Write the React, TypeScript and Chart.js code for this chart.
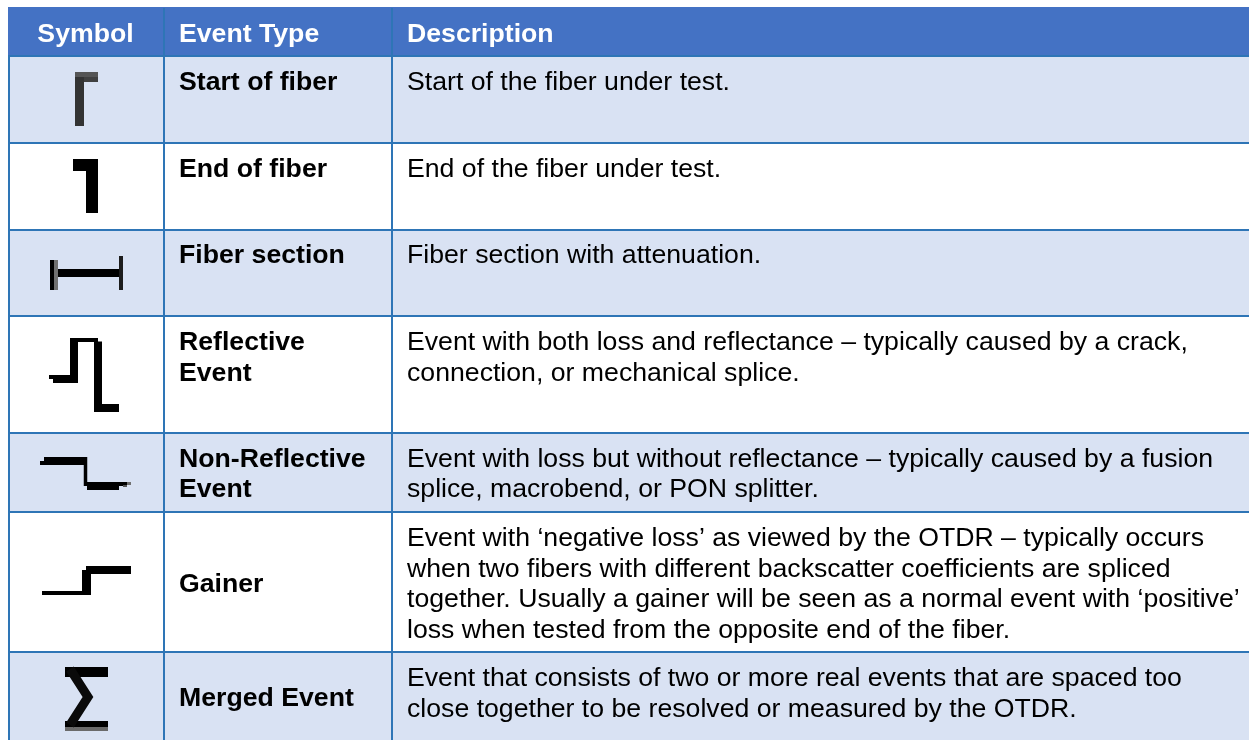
import React, { useEffect, useRef } from "react";
import { Chart, registerables } from "chart.js";

Chart.register(...registerables);

const WIDTH = 1249;
const HEIGHT = 740;

// Table grid, in scale units
const tableLeft = 9;
const tableTop = 7;
const columnEdges = [164, 392];
const rowEdges = [56, 143, 230, 316, 433, 512, 652];
const shadedRows = [[56, 143], [230, 316], [433, 512], [652, 740]];

const headerLabels = ["Symbol", "Event Type", "Description"];
const eventTypes = [
  ["Start of fiber"],
  ["End of fiber"],
  ["Fiber section"],
  ["Reflective", "Event"],
  ["Non-Reflective", "Event"],
  ["Gainer"],
  ["Merged Event"],
];
const eventBaselines = [90, 177, 263, 350, 467, 592, 706];
const eventLineSteps = [0, 0, 0, 31, 30, 0, 0];
const descriptions = [
  ["Start of the fiber under test."],
  ["End of the fiber under test."],
  ["Fiber section with attenuation."],
  ["Event with both loss and reflectance – typically caused by a crack,", "connection, or mechanical splice."],
  ["Event with loss but without reflectance – typically caused by a fusion", "splice, macrobend, or PON splitter."],
  [
    "Event with ‘negative loss’ as viewed by the OTDR – typically occurs",
    "when two fibers with different backscatter coefficients are spliced",
    "together. Usually a gainer will be seen as a normal event with ‘positive’",
    "loss when tested from the opposite end of the fiber.",
  ],
  ["Event that consists of two or more real events that are spaced too", "close together to be resolved or measured by the OTDR."],
];
const descriptionBaselines = [90, 177, 263, 350, 467, 546, 686];
const descriptionLineSteps = [0, 0, 0, 31, 30, 30.5, 31];

// Symbol traces
type P = [number, number];
const startStem: P[] = [[79.5, 126], [79.5, 72]];
const startArmTop: P[] = [[75, 74.5], [98, 74.5]];
const startArmLow: P[] = [[84, 79.5], [98, 79.5]];
const endTrace: P[] = [[73, 165], [92, 165], [92, 213]];
const sectionBar: P[] = [[54, 273], [119, 273]];
const sectionLeftTick: P[] = [[52, 260], [52, 290]];
const sectionLeftShade: P[] = [[56, 260], [56, 290]];
const sectionRightTick: P[] = [[121, 256], [121, 290]];
const reflectiveLeft: P[] = [[49, 377], [74, 377]];
const reflectiveLow: P[] = [[53, 381], [74, 381]];
const reflectiveRise: P[] = [[74, 383], [74, 338]];
const reflectiveTop: P[] = [[70, 340], [98, 340]];
const reflectiveFall: P[] = [[98, 341.5], [98, 412]];
const reflectiveEnd: P[] = [[94, 408], [119, 408]];
const nonReflectiveHigh: P[] = [[44, 459], [84, 459]];
const nonReflectiveHighLow: P[] = [[40, 463], [87, 463]];
const nonReflectiveDrop: P[] = [[85.5, 457], [85.5, 486]];
const nonReflectiveLow: P[] = [[87, 486], [119, 486]];
const nonReflectiveTail: P[] = [[84, 484], [127, 484]];
const nonReflectiveGrey: P[] = [[123, 486], [127, 486]];
const nonReflectiveTip: P[] = [[127, 483.5], [131, 483.5]];
const gainerLow: P[] = [[42, 593], [91, 593]];
const gainerRise: P[] = [[86.5, 595], [86.5, 570]];
const gainerHigh: P[] = [[86, 570], [131, 570]];
const sigmaTopBar: P[] = [[65, 672], [108, 672]];
const sigmaDiagonal: P[] = [[70, 669], [88, 697], [70, 725]];
const sigmaBottomBar: P[] = [[65, 724], [108, 724]];
const sigmaFoot: P[] = [[65, 729], [108, 729]];

const INK = "#000000";
const traces: { pts: P[]; width: number; color?: string }[] = [
  { pts: startStem, width: 9, color: "#333333" },
  { pts: startArmTop, width: 5, color: "#555555" },
  { pts: startArmLow, width: 5, color: "#404040" },
  { pts: endTrace, width: 12 },
  { pts: sectionBar, width: 8 },
  { pts: sectionLeftShade, width: 4, color: "#707070" },
  { pts: sectionLeftTick, width: 4 },
  { pts: sectionRightTick, width: 4, color: "#1c1c1c" },
  { pts: reflectiveLeft, width: 4 },
  { pts: reflectiveLow, width: 4 },
  { pts: reflectiveRise, width: 8 },
  { pts: reflectiveTop, width: 4 },
  { pts: reflectiveFall, width: 8 },
  { pts: reflectiveEnd, width: 8 },
  { pts: nonReflectiveHigh, width: 4 },
  { pts: nonReflectiveHighLow, width: 4 },
  { pts: nonReflectiveDrop, width: 3.5 },
  { pts: nonReflectiveLow, width: 8 },
  { pts: nonReflectiveTail, width: 4 },
  { pts: nonReflectiveGrey, width: 2, color: "#555555" },
  { pts: nonReflectiveTip, width: 3, color: "#707070" },
  { pts: gainerLow, width: 4 },
  { pts: gainerRise, width: 9 },
  { pts: gainerHigh, width: 8 },
  { pts: sigmaFoot, width: 4, color: "#6a6a6a" },
  { pts: sigmaBottomBar, width: 6 },
  { pts: sigmaTopBar, width: 10 },
  { pts: sigmaDiagonal, width: 9, color: "#0a0a0a" },
];

const HEADER_BLUE = "#4472C4";
const BAND_BLUE = "#D9E2F3";
const RULE_BLUE = "#2E75B6";

const toXY = (pts: P[]) => pts.map(([x, y]) => ({ x, y }));

const lineBase = {
  type: "line" as const,
  pointRadius: 0,
  tension: 0,
  borderCapStyle: "butt" as const,
  borderJoinStyle: "miter" as const,
};

const tableText = {
  id: "tableText",
  afterDatasetsDraw(chart: any) {
    const { ctx, scales } = chart;
    const X = (v: number) => scales.x.getPixelForValue(v);
    const Y = (v: number) => scales.y.getPixelForValue(v);
    const FAMILY = '"Liberation Sans", Arial, sans-serif';
    const SIZE = "26.67px";
    ctx.save();
    ctx.textBaseline = "alphabetic";

    ctx.fillStyle = "#ffffff";
    ctx.font = `bold ${SIZE} ${FAMILY}`;
    ctx.textAlign = "center";
    ctx.fillText(headerLabels[0], X(85.5), Y(42));
    ctx.textAlign = "left";
    ctx.fillText(headerLabels[1], X(179), Y(42));
    ctx.fillText(headerLabels[2], X(407), Y(42));

    ctx.fillStyle = "#000000";
    eventTypes.forEach((lines, r) => {
      lines.forEach((t, i) => ctx.fillText(t, X(179), Y(eventBaselines[r] + i * eventLineSteps[r])));
    });
    ctx.font = `${SIZE} ${FAMILY}`;
    descriptions.forEach((lines, r) => {
      lines.forEach((t, i) => ctx.fillText(t, X(407), Y(descriptionBaselines[r] + i * descriptionLineSteps[r])));
    });
    ctx.restore();
  },
};

export default function App() {
  const ref = useRef<HTMLCanvasElement>(null);
  useEffect(() => {
    const fills = [
      { ...lineBase, order: 3, borderWidth: 0, data: toXY([[8, tableTop], [WIDTH, tableTop]]), fill: { value: rowEdges[0] }, backgroundColor: HEADER_BLUE },
      ...shadedRows.map(([top, bottom]) => ({
        ...lineBase,
        order: 3,
        borderWidth: 0,
        data: toXY([[8, top], [WIDTH, top]]),
        fill: { value: bottom },
        backgroundColor: BAND_BLUE,
      })),
    ];
    const rule = { ...lineBase, order: 2, borderWidth: 2, borderColor: RULE_BLUE, fill: false };
    const rules = [
      ...rowEdges.map((y) => ({ ...rule, data: toXY([[8, y], [WIDTH, y]]) })),
      { ...rule, data: toXY([[tableLeft, rowEdges[0]], [tableLeft, HEIGHT]]) },
      ...columnEdges.map((x) => ({ ...rule, data: toXY([[x, tableTop + 1], [x, HEIGHT]]) })),
    ];
    // Later marks sit on top: a smaller order is drawn later, so count down through the list.
    const marks = traces.map((t, i) => ({ ...lineBase, order: -i, borderWidth: t.width, borderColor: t.color ?? INK, fill: false, data: toXY(t.pts) }));
    const chart = new Chart(ref.current!, {
      type: "line",
      data: { datasets: [...fills, ...rules, ...marks] as any },
      options: {
        animation: false,
        responsive: false,
        layout: { padding: 0 },
        plugins: { legend: { display: false }, tooltip: { enabled: false }, title: { display: false } },
        scales: {
          x: { type: "linear", min: 0, max: WIDTH, display: false },
          y: { type: "linear", min: 0, max: HEIGHT, reverse: true, display: false },
        },
      },
      plugins: [tableText],
    });
    return () => chart.destroy();
  }, []);
  return (
    <div style={{ position: "fixed", left: 0, top: 0, width: WIDTH, height: HEIGHT, background: "#ffffff" }}>
      <canvas ref={ref} width={WIDTH} height={HEIGHT} style={{ display: "block" }} />
    </div>
  );
}
